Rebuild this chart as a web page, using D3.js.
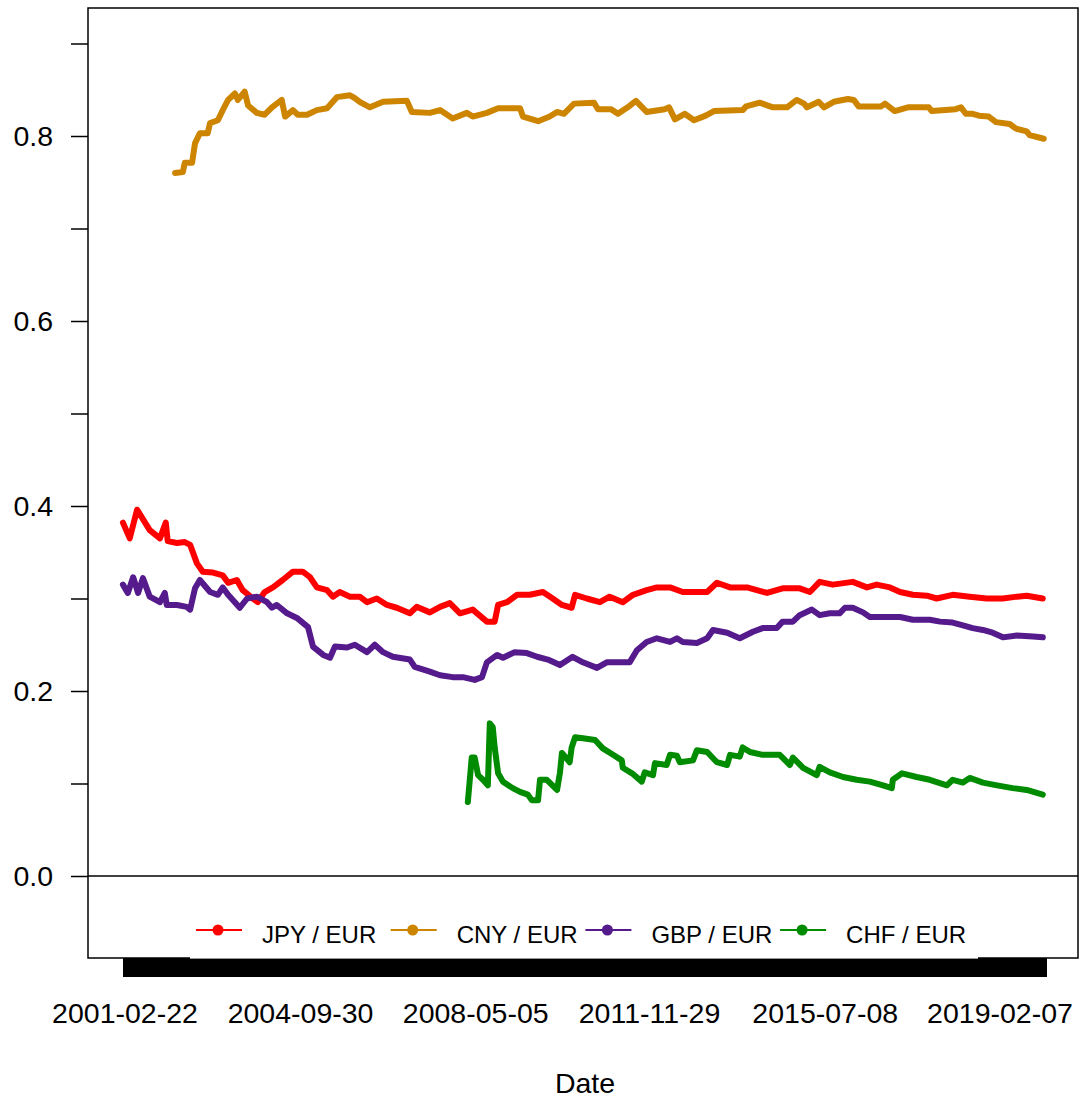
<!DOCTYPE html>
<html>
<head>
<meta charset="utf-8">
<script src="https://cdn.jsdelivr.net/npm/d3@7"></script>
<style>
html,body{margin:0;padding:0;background:#fff;}
svg{display:block;font-family:"Liberation Sans",Arial,sans-serif;}
</style>
</head>
<body>
<svg id="chart" width="1080" height="1103"></svg>
<script>
// ---- data (decimal years and values) ----
const seriesNames = ["JPY / EUR", "CNY / EUR", "GBP / EUR", "CHF / EUR"];
const seriesColors = ["#FF0000", "#CD8500", "#551A8B", "#008B00"];

const jpyYears = [2001.10,2001.24,2001.39,2001.65,2001.86,2001.98,2002.02,2002.21,2002.37,2002.48,2002.62,2002.74,2002.95,2003.15,2003.26,2003.44,2003.56,2003.77,2003.87,2004.01,2004.18,2004.38,2004.59,2004.79,2004.94,2005.08,2005.29,2005.41,2005.55,2005.76,2005.96,2006.11,2006.31,2006.52,2006.72,2006.99,2007.13,2007.40,2007.61,2007.81,2008.02,2008.28,2008.57,2008.73,2008.80,2008.98,2009.19,2009.45,2009.72,2009.92,2010.11,2010.31,2010.38,2010.62,2010.89,2011.09,2011.36,2011.57,2011.85,2012.06,2012.33,2012.59,2012.88,2013.09,2013.29,2013.56,2013.91,2014.32,2014.64,2014.99,2015.20,2015.40,2015.67,2016.08,2016.37,2016.57,2016.84,2017.05,2017.31,2017.60,2017.80,2018.13,2018.48,2018.83,2019.16,2019.45,2019.65,2019.98];
const jpyValues = [0.382,0.365,0.396,0.374,0.365,0.382,0.362,0.360,0.361,0.358,0.338,0.329,0.328,0.325,0.317,0.320,0.309,0.300,0.296,0.307,0.312,0.320,0.329,0.329,0.323,0.312,0.309,0.302,0.307,0.302,0.302,0.296,0.300,0.293,0.290,0.284,0.291,0.285,0.291,0.295,0.284,0.288,0.275,0.275,0.293,0.296,0.304,0.304,0.307,0.300,0.293,0.290,0.304,0.300,0.296,0.302,0.296,0.304,0.309,0.312,0.312,0.307,0.307,0.307,0.317,0.312,0.312,0.306,0.311,0.311,0.307,0.318,0.315,0.318,0.312,0.315,0.312,0.307,0.304,0.303,0.300,0.304,0.302,0.300,0.300,0.302,0.303,0.300];

const cnyYears = [2002.17,2002.33,2002.37,2002.52,2002.58,2002.68,2002.84,2002.89,2003.05,2003.15,2003.26,2003.40,2003.46,2003.60,2003.67,2003.85,2004.01,2004.16,2004.36,2004.43,2004.59,2004.69,2004.88,2005.08,2005.29,2005.49,2005.76,2005.86,2005.96,2006.17,2006.44,2006.93,2007.03,2007.40,2007.61,2007.87,2008.16,2008.28,2008.57,2008.80,2009.25,2009.31,2009.62,2009.86,2010.01,2010.15,2010.36,2010.77,2010.85,2011.12,2011.26,2011.46,2011.63,2011.85,2012.22,2012.31,2012.43,2012.63,2012.82,2013.06,2013.23,2013.82,2013.89,2014.17,2014.44,2014.73,2014.93,2015.08,2015.14,2015.38,2015.49,2015.69,2015.98,2016.10,2016.20,2016.66,2016.74,2016.94,2017.21,2017.64,2017.70,2018.19,2018.30,2018.40,2018.54,2018.67,2018.87,2019.02,2019.30,2019.43,2019.65,2019.71,2020.00];
const cnyValues = [0.760,0.761,0.771,0.771,0.792,0.803,0.803,0.814,0.817,0.828,0.839,0.846,0.839,0.848,0.833,0.825,0.823,0.831,0.839,0.821,0.828,0.823,0.823,0.828,0.830,0.842,0.844,0.841,0.837,0.831,0.837,0.838,0.826,0.825,0.828,0.819,0.825,0.821,0.825,0.830,0.830,0.821,0.816,0.821,0.826,0.824,0.835,0.836,0.829,0.829,0.824,0.831,0.838,0.826,0.829,0.831,0.818,0.824,0.817,0.822,0.827,0.828,0.832,0.836,0.831,0.831,0.839,0.835,0.831,0.837,0.831,0.837,0.840,0.839,0.832,0.832,0.835,0.827,0.831,0.831,0.827,0.829,0.831,0.824,0.824,0.822,0.821,0.815,0.813,0.808,0.805,0.801,0.797];

const gbpYears = [2001.10,2001.20,2001.31,2001.41,2001.51,2001.65,2001.86,2001.96,2002.00,2002.21,2002.41,2002.48,2002.58,2002.68,2002.89,2003.05,2003.15,2003.26,2003.50,2003.65,2003.85,2004.06,2004.16,2004.26,2004.47,2004.67,2004.90,2005.00,2005.21,2005.35,2005.45,2005.70,2005.86,2006.11,2006.27,2006.44,2006.64,2006.99,2007.09,2007.40,2007.61,2007.87,2008.08,2008.32,2008.47,2008.57,2008.78,2008.90,2009.14,2009.39,2009.60,2009.82,2010.07,2010.33,2010.54,2010.83,2011.03,2011.30,2011.50,2011.65,2011.85,2012.06,2012.33,2012.47,2012.59,2012.88,2013.09,2013.21,2013.50,2013.76,2014.03,2014.23,2014.52,2014.64,2014.85,2014.99,2015.24,2015.40,2015.61,2015.81,2015.92,2016.08,2016.29,2016.43,2016.70,2017.05,2017.31,2017.66,2017.87,2018.13,2018.34,2018.54,2018.75,2018.95,2019.16,2019.45,2019.78,2019.98];
const gbpValues = [0.315,0.306,0.323,0.306,0.322,0.302,0.296,0.306,0.293,0.293,0.291,0.288,0.311,0.320,0.307,0.304,0.312,0.304,0.290,0.300,0.302,0.296,0.290,0.293,0.284,0.279,0.269,0.248,0.239,0.236,0.248,0.247,0.250,0.242,0.250,0.242,0.237,0.234,0.226,0.221,0.217,0.215,0.215,0.212,0.215,0.231,0.239,0.236,0.242,0.241,0.237,0.234,0.228,0.237,0.231,0.225,0.231,0.231,0.231,0.244,0.253,0.257,0.253,0.257,0.253,0.252,0.257,0.266,0.263,0.257,0.264,0.268,0.268,0.275,0.275,0.282,0.288,0.282,0.284,0.284,0.290,0.290,0.285,0.280,0.280,0.280,0.277,0.277,0.275,0.274,0.271,0.268,0.266,0.263,0.258,0.260,0.259,0.258];

const chfYears = [2008.18,2008.26,2008.32,2008.39,2008.49,2008.59,2008.63,2008.69,2008.73,2008.80,2008.90,2009.10,2009.25,2009.41,2009.49,2009.62,2009.66,2009.80,2010.01,2010.07,2010.11,2010.27,2010.31,2010.38,2010.54,2010.79,2010.95,2011.16,2011.34,2011.36,2011.55,2011.75,2011.81,2011.98,2012.02,2012.26,2012.33,2012.47,2012.53,2012.80,2012.88,2013.09,2013.29,2013.50,2013.56,2013.76,2013.82,2013.97,2014.23,2014.58,2014.79,2014.85,2015.06,2015.34,2015.40,2015.61,2015.88,2016.16,2016.43,2016.70,2016.88,2016.90,2017.09,2017.39,2017.66,2018.01,2018.13,2018.34,2018.48,2018.75,2019.04,2019.36,2019.65,2019.98];
const chfValues = [0.080,0.128,0.128,0.109,0.104,0.098,0.165,0.161,0.139,0.111,0.102,0.095,0.091,0.088,0.082,0.082,0.104,0.104,0.093,0.112,0.133,0.123,0.139,0.150,0.149,0.147,0.138,0.131,0.125,0.117,0.111,0.102,0.112,0.109,0.122,0.120,0.131,0.130,0.123,0.125,0.136,0.134,0.123,0.120,0.131,0.129,0.139,0.134,0.131,0.131,0.120,0.128,0.117,0.109,0.118,0.112,0.107,0.104,0.102,0.098,0.095,0.104,0.111,0.107,0.104,0.098,0.104,0.101,0.106,0.101,0.098,0.095,0.093,0.088];

const xTickLabels = ["2001-02-22","2004-09-30","2008-05-05","2011-11-29","2015-07-08","2019-02-07"];
const yTicks = [0,0.1,0.2,0.3,0.4,0.5,0.6,0.7,0.8,0.9];
const yTickLabels = ["0.0","","0.2","","0.4","","0.6","","0.8",""];
const xTitle = "Date";

// ---- helpers ----
function dateOf(t){
  const y = Math.floor(t);
  const s = Date.UTC(y,0,1), e = Date.UTC(y+1,0,1);
  return new Date(s + (t - y) * (e - s));
}
const parseDate = d3.utcParse("%Y-%m-%d");

const svg = d3.select("#chart");
const plot = {left: 88, right: 1078, top: 8, bottom: 958};

const x = d3.scaleUtc()
  .domain([parseDate(xTickLabels[0]), parseDate(xTickLabels[xTickLabels.length-1])])
  .range([125, 1000]);
const y = d3.scaleLinear().domain([0, 0.8]).range([876, 136]);

const series = [
  {years: jpyYears, values: jpyValues},
  {years: cnyYears, values: cnyValues},
  {years: gbpYears, values: gbpValues},
  {years: chfYears, values: chfValues}
];

// zero line
svg.append("line")
  .attr("x1", plot.left).attr("x2", plot.right)
  .attr("y1", y(0)).attr("y2", y(0))
  .attr("stroke", "#000").attr("stroke-width", 1.3);

// lines
const line = d3.line().x(d => x(d[0])).y(d => y(d[1]));
series.forEach((s, i) => {
  const pts = s.years.map((t, j) => [dateOf(t), s.values[j]]);
  svg.append("path")
    .datum(pts)
    .attr("d", line)
    .attr("fill", "none")
    .attr("stroke", seriesColors[i])
    .attr("stroke-width", 6)
    .attr("stroke-linejoin", "round")
    .attr("stroke-linecap", "round");
});

// plot frame
svg.append("rect")
  .attr("x", plot.left).attr("y", plot.top)
  .attr("width", plot.right - plot.left).attr("height", plot.bottom - plot.top)
  .attr("fill", "none").attr("stroke", "#000").attr("stroke-width", 1.5);

// y axis
const yAxis = d3.axisLeft(y).tickValues(yTicks).tickSize(17).tickPadding(18)
  .tickFormat((d, i) => yTickLabels[i]);
const gy = svg.append("g").attr("transform", `translate(${plot.left},0)`).call(yAxis);
gy.select(".domain").remove();
gy.selectAll(".tick line").attr("stroke", "#000").attr("stroke-width", 1.5);
gy.selectAll(".tick text").attr("font-size", 28.5).attr("fill", "#000")
  .attr("font-family", '"Liberation Sans", Arial, sans-serif');

// dense x ticks (one per day of the series)
const tickDates = d3.utcDay.range(new Date(Date.UTC(2001,1,6)), new Date(Date.UTC(2020,0,18)));
const xAxisDense = d3.axisBottom(x).tickValues(tickDates).tickSize(19).tickFormat("");
const gx = svg.append("g").attr("transform", `translate(0,${plot.bottom})`).call(xAxisDense);
gx.select(".domain").remove();
gx.selectAll(".tick line").attr("stroke", "#000").attr("stroke-width", 1)
  .attr("shape-rendering", "crispEdges");

// legend
const lg = svg.append("g");
lg.append("rect").attr("x", 190).attr("y", 904).attr("width", 788).attr("height", 54.5)
  .attr("fill", "#fff");
lg.append("line").attr("x1", 190).attr("x2", 978).attr("y1", 958.5).attr("y2", 958.5)
  .attr("stroke", "#9a9a9a").attr("stroke-width", 1);
seriesNames.forEach((name, i) => {
  const x0 = 196 + i * 194.7;
  lg.append("line").attr("x1", x0).attr("x2", x0 + 46).attr("y1", 930).attr("y2", 930)
    .attr("stroke", seriesColors[i]).attr("stroke-width", 2);
  lg.append("circle").attr("cx", x0 + 22).attr("cy", 930).attr("r", 5.5)
    .attr("fill", seriesColors[i]);
  lg.append("text").attr("x", x0 + 66).attr("y", 943).attr("font-size", 24)
    .attr("fill", "#000").text(name);
});

// x tick labels
svg.append("g").selectAll("text").data(xTickLabels).join("text")
  .attr("x", d => x(parseDate(d)))
  .attr("y", 1023)
  .attr("text-anchor", "middle")
  .attr("font-size", 28.5)
  .attr("fill", "#000")
  .text(d => d);

// x title
svg.append("text").attr("x", 585).attr("y", 1093).attr("text-anchor", "middle")
  .attr("font-size", 28.5).attr("fill", "#000").text(xTitle);
</script>
</body>
</html>
